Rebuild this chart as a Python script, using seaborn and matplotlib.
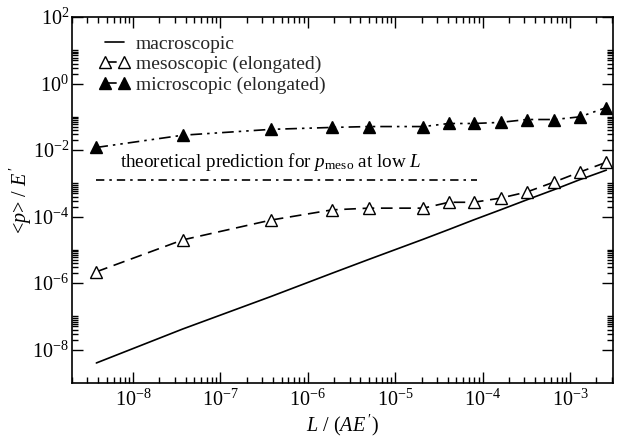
import numpy as np
import pandas as pd
import matplotlib
matplotlib.use("Agg")
import matplotlib.pyplot as plt
import seaborn as sns
from matplotlib.ticker import FixedLocator, NullFormatter, LogFormatterSciNotation

# ---- data ----
L_vals = [3.8e-9, 3.7e-8, 3.8e-7, 1.9e-6, 5.0e-6, 2.1e-5, 4.1e-5, 7.9e-5,
          1.6e-4, 3.2e-4, 6.6e-4, 1.3e-3, 2.6e-3]
p_macro = [4.0e-9, 4.2e-8, 4.0e-7, 2.0e-6, 5.2e-6, 2.1e-5, 4.1e-5, 8.0e-5,
           1.6e-4, 3.2e-4, 6.5e-4, 1.3e-3, 2.5e-3]
p_meso = [2.2e-6, 2.0e-5, 7.9e-5, 1.6e-4, 1.8e-4, 1.8e-4, 2.7e-4, 2.7e-4,
          3.6e-4, 5.5e-4, 1.1e-3, 2.2e-3, 4.3e-3]
p_micro = [1.2e-2, 2.8e-2, 4.2e-2, 4.8e-2, 5.1e-2, 5.1e-2, 6.3e-2, 6.3e-2,
           6.8e-2, 8.3e-2, 8.3e-2, 1.0e-1, 1.9e-1]
theory_L = [3.8e-9, 8.7e-5]
theory_p = [1.25e-3, 1.25e-3]

x_major = [1e-8, 1e-7, 1e-6, 1e-5, 1e-4, 1e-3]
y_major = [1e-8, 1e-6, 1e-4, 1e-2, 1e0, 1e2]

labels = ["macroscopic", "mesoscopic (elongated)", "microscopic (elongated)"]
annot = r"theoretical prediction for $p_{\mathrm{meso}}$ at low $L$"

# ---- style ----
sns.set_theme(style="ticks")
plt.rcParams["font.family"] = ["Liberation Serif", "DejaVu Serif"]
plt.rcParams["mathtext.fontset"] = "custom"
plt.rcParams["mathtext.rm"] = "Liberation Serif"
plt.rcParams["mathtext.it"] = "Liberation Serif:italic"
plt.rcParams["mathtext.bf"] = "Liberation Serif:bold"
plt.rcParams["axes.unicode_minus"] = False

fig = plt.figure(figsize=(6.23, 4.38), dpi=100)
ax = fig.add_axes([72/623, 1-383/438, (613-72)/623, (383-17)/438])
ax.set_xscale("log")
ax.set_yscale("log")

lw = 1.2
sns.lineplot(x=L_vals, y=p_macro, color="black", lw=lw, ax=ax,
             label=labels[0], estimator=None, sort=False)
sns.lineplot(x=L_vals, y=p_meso, color="black", lw=lw, ax=ax,
             linestyle=(0, (7, 4)), marker="^", ms=8.5, mfc="white",
             mec="black", mew=1.0, label=labels[1], estimator=None, sort=False)
sns.lineplot(x=L_vals, y=p_micro, color="black", lw=lw, ax=ax,
             linestyle=(0, (7, 3, 1.5, 3, 1.5, 3)), marker="^", ms=8.5,
             mfc="black", mec="black", mew=1.0, label=labels[2],
             estimator=None, sort=False)
sns.lineplot(x=theory_L, y=theory_p, color="black", lw=lw, ax=ax,
             linestyle=(0, (5, 3, 1.5, 3)), estimator=None, sort=False,
             legend=False)

ax.set_xlim(2.0e-9, 3.1e-3)
ax.set_ylim(1e-9, 1e2)

# ticks
ax.xaxis.set_major_locator(FixedLocator(x_major))
ax.xaxis.set_major_formatter(LogFormatterSciNotation(base=10))
xminor = [m * 10.0**k for k in range(-9, -2) for m in range(2, 10)]
xminor = [v for v in xminor if 2.0e-9 <= v <= 3.1e-3]
ax.xaxis.set_minor_locator(FixedLocator(xminor))
ax.xaxis.set_minor_formatter(NullFormatter())
ax.yaxis.set_major_locator(FixedLocator(y_major))
ax.yaxis.set_major_formatter(LogFormatterSciNotation(base=10))
yminor = [m * 10.0**k for k in range(-8, 1, 2) for m in range(2, 11)]
ax.yaxis.set_minor_locator(FixedLocator(yminor))
ax.yaxis.set_minor_formatter(NullFormatter())

ax.tick_params(which="both", direction="in", top=True, right=True,
               color="black", width=1.0, labelsize=14.5, labelcolor="black")
ax.tick_params(which="major", length=8)
ax.tick_params(axis="x", which="major", pad=5)
ax.tick_params(axis="y", which="major", pad=2)
ax.tick_params(which="minor", length=4)
for s in ax.spines.values():
    s.set_color("black")
    s.set_linewidth(1.2)

ax.set_xlabel(r"$L$ / ($AE^{\,\prime}$)", fontsize=14.5, color="black", labelpad=1.5)
ax.set_ylabel(r"<$p$> / $E^{\,\prime}$", fontsize=14.5, color="black")
ax.yaxis.set_label_coords(-0.071, 0.5)

ax.text(7.1e-9, 4.3e-3, annot, fontsize=13.8, va="center", ha="left", color="black")

leg = ax.legend(loc="upper left", bbox_to_anchor=(0.035, 0.972), frameon=False,
                numpoints=2, handlelength=1.6, handletextpad=0.3,
                fontsize=14, labelspacing=0.15, borderaxespad=0)

fig.savefig("out.png", dpi=100)
